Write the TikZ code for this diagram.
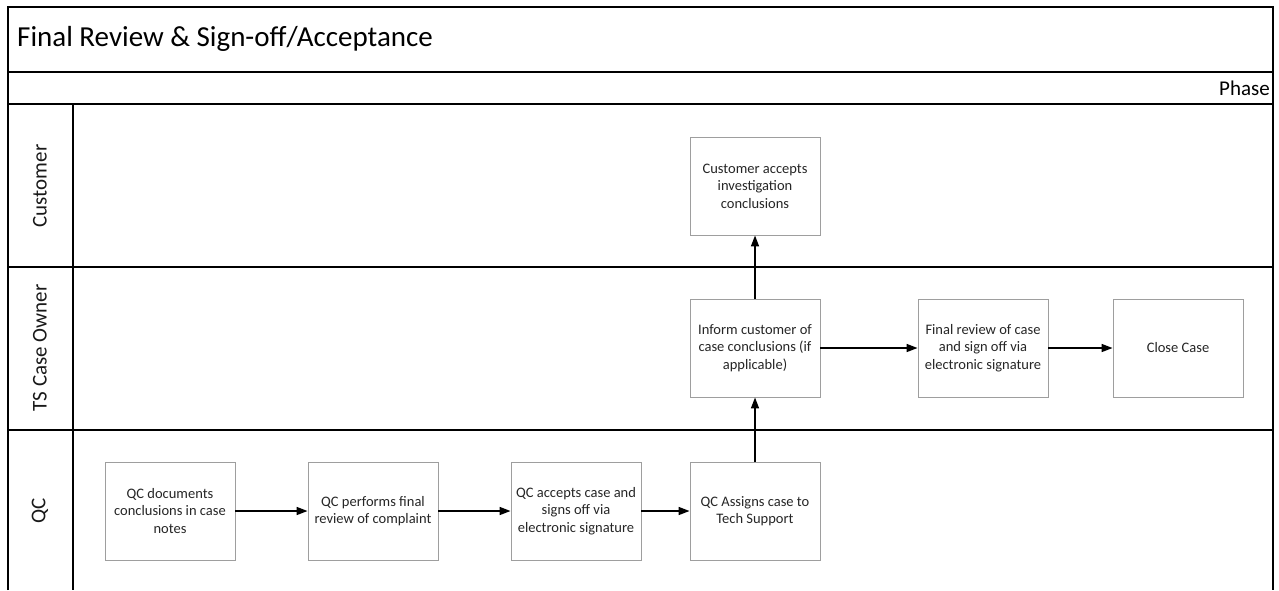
\documentclass[tikz,border=0pt]{standalone}
\usepackage{fontspec}
\setmainfont{Carlito}
\usetikzlibrary{arrows.meta}
\tikzset{
  frame/.style={line width=1.8pt, black},
  task/.style={draw=black!38, line width=0.9pt, fill=white, minimum width=130pt,
    minimum height=98pt, inner sep=0pt, align=center, text=black!85,
    font=\fontsize{14.5}{17.5}\selectfont},
  lanelabel/.style={rotate=90, font=\fontsize{21}{24}\selectfont, text=black!90},
  flow/.style={line width=1.6pt, black, -{Triangle[length=11pt,width=8pt]}}
}
\begin{document}
\begin{tikzpicture}[x=1pt,y=-1pt]
\useasboundingbox (0,0) rectangle (1279,590);
% pool frame, open at the bottom
\draw[frame] (8,590) -- (8,7) -- (1273,7) -- (1273,590);
\draw[frame] (8,72) -- (1273,72);
\draw[frame] (8,104) -- (1273,104);
\draw[frame] (8,267) -- (1273,267);
\draw[frame] (8,430) -- (1273,430);
\draw[frame] (73,104) -- (73,590);
% headings
\node[anchor=west, inner sep=0pt, font=\fontsize{29}{33}\selectfont] (title) at (17,39) {Final Review \& Sign-off/Acceptance};
\node[anchor=east, inner sep=0pt, font=\fontsize{21}{24}\selectfont] (phase) at (1270,88) {Phase};
% lane labels
\node[lanelabel] (lcust) at (40,186) {Customer};
\node[lanelabel] (lts) at (40,348) {TS Case Owner};
\node[lanelabel] (lqc) at (40,511) {QC};
% tasks
\node[task] (cacc) at (755,186) {Customer accepts\\investigation\\conclusions};
\node[task] (inform) at (755,348) {Inform customer of\\case conclusions (if\\applicable)};
\node[task] (final) at (983,348) {Final review of case\\and sign off via\\electronic signature};
\node[task] (close) at (1178,348) {Close Case};
\node[task] (qdoc) at (170,511) {QC documents\\conclusions in case\\notes};
\node[task] (qrev) at (373,511) {QC performs final\\review of complaint};
\node[task] (qacc) at (576,511) {QC accepts case and\\signs off via\\electronic signature};
\node[task] (qass) at (755,511) {QC Assigns case to\\Tech Support};
% flows
\draw[flow] (qdoc) -- (qrev);
\draw[flow] (qrev) -- (qacc);
\draw[flow] (qacc) -- (qass);
\draw[flow] (qass) -- (inform);
\draw[flow] (inform) -- (cacc);
\draw[flow] (inform) -- (final);
\draw[flow] (final) -- (close);
\end{tikzpicture}
\end{document}
